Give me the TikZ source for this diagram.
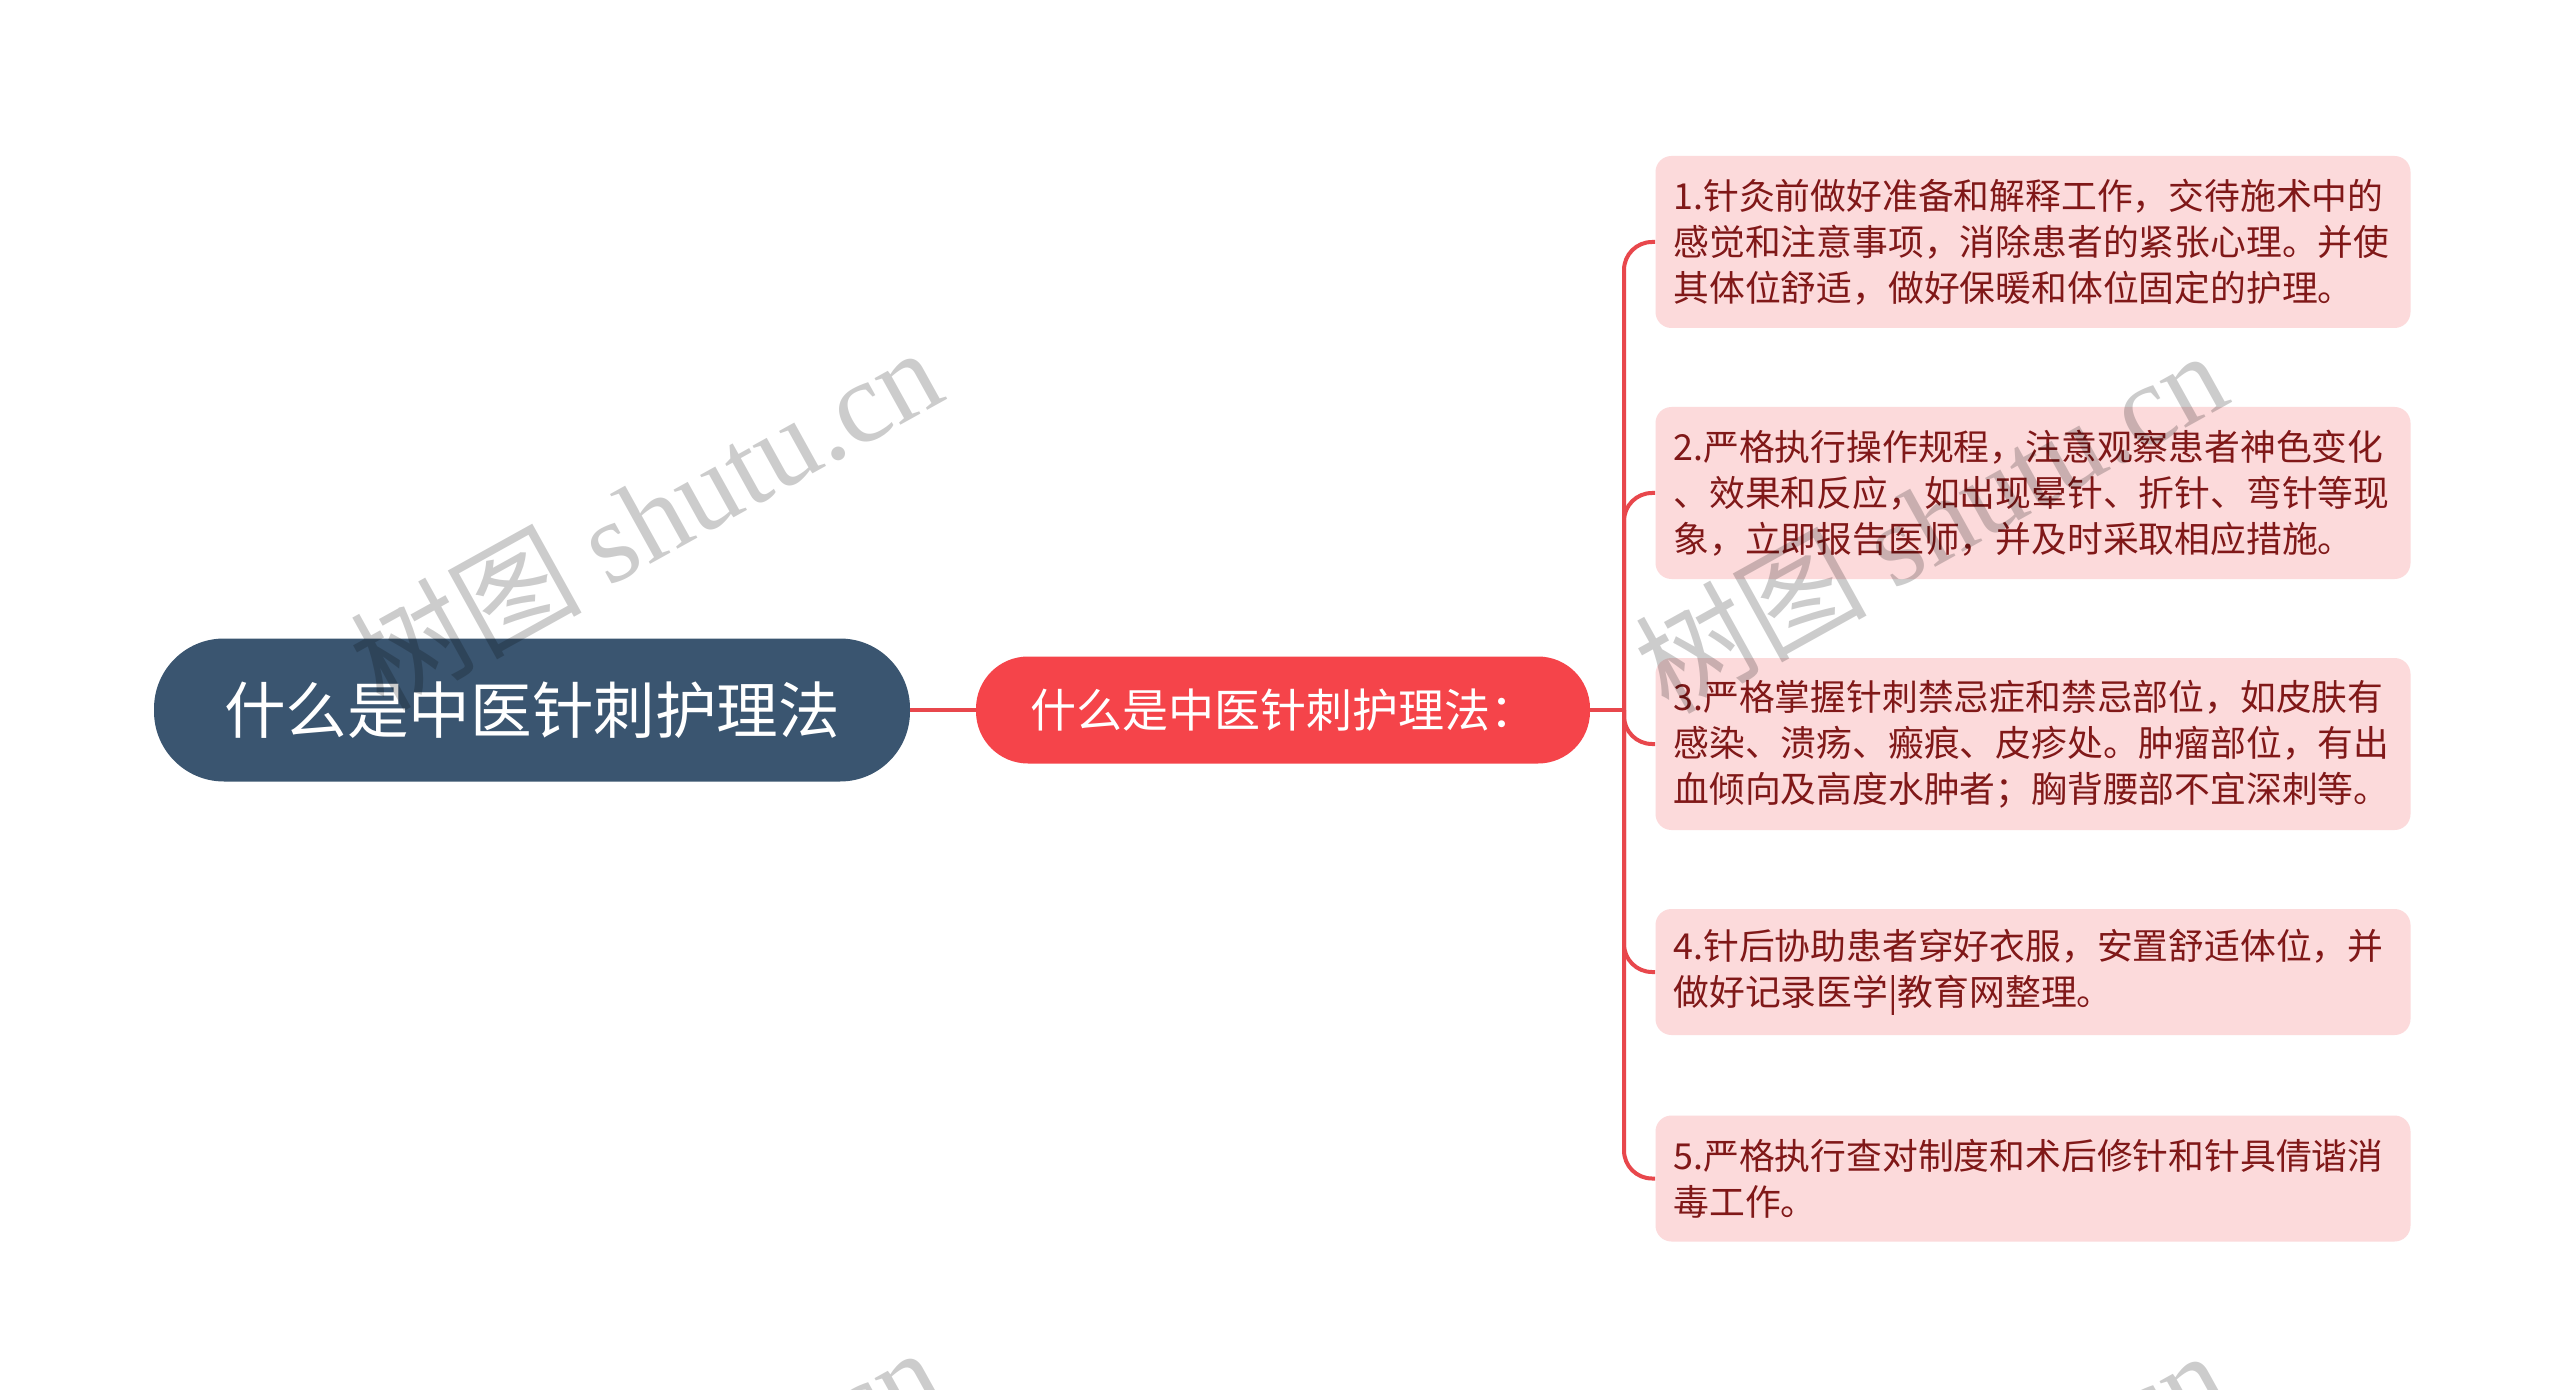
\documentclass[tikz,border=0pt]{standalone}
\usepackage{fontspec}
\setmainfont{Noto Sans CJK SC}
\newfontfamily\wmlatin{Liberation Serif}
\usetikzlibrary{positioning}
\definecolor{rootblue}{HTML}{3A5570}
\definecolor{midred}{HTML}{F5444A}
\definecolor{leafpink}{HTML}{FCDADB}
\definecolor{leaftext}{HTML}{801818}
\definecolor{linered}{HTML}{E8474C}
\tikzset{
  rootbox/.style={draw=none, fill=rootblue, text=white, rounded corners=35pt,
    minimum width=378pt, minimum height=71.5pt, inner sep=0pt,
    font=\fontsize{30.8pt}{36pt}\selectfont},
  midbox/.style={draw=none, fill=midred, text=white, rounded corners=26pt,
    minimum width=307pt, minimum height=53.5pt, inner sep=0pt,
    font=\fontsize{23pt}{27pt}\selectfont},
  leafbox/.style={draw=none, fill=leafpink, text=leaftext, rounded corners=8pt,
    minimum width=377.5pt, inner xsep=9pt, inner ysep=0pt, text width=359.5pt,
    align=left, font=\fontsize{17.9pt}{23pt}\selectfont},
  conn/.style={draw=linered, line width=2pt},
  branch/.style={draw=linered, line width=2pt, rounded corners=14pt},
  watermark/.style={text=black, text opacity=0.2, rotate=29,
    font=\fontsize{58pt}{60pt}\selectfont, inner sep=0pt}
}
\begin{document}
\begin{tikzpicture}[x=0.5pt,y=-0.5pt]
\useasboundingbox (0,0) rectangle (2560,1390);
\fill[white] (0,0) rectangle (2560,1390);
\begin{scope}
\clip (0,0) rectangle (2560,1390);
\node[rootbox] (root) at (532,710) {什么是中医针刺护理法};
\node[midbox] (mid) at (1283,710) {什么是中医针刺护理法：};
\node[leafbox, minimum height=86pt] (l1) at (2033,242) {1.针灸前做好准备和解释工作，交待施术中的\\感觉和注意事项，消除患者的紧张心理。并使\\其体位舒适，做好保暖和体位固定的护理。};
\node[leafbox, minimum height=86pt] (l2) at (2033,493) {2.严格执行操作规程，注意观察患者神色变化\\、效果和反应，如出现晕针、折针、弯针等现\\象，立即报告医师，并及时采取相应措施。};
\node[leafbox, minimum height=86pt] (l3) at (2033,744) {3.严格掌握针刺禁忌症和禁忌部位，如皮肤有\\感染、溃疡、瘢痕、皮疹处。肿瘤部位，有出\\血倾向及高度水肿者；胸背腰部不宜深刺等。};
\node[leafbox, minimum height=63pt] (l4) at (2033,972) {4.针后协助患者穿好衣服，安置舒适体位，并\\做好记录医学|教育网整理。};
\node[leafbox, minimum height=63pt] (l5) at (2033,1178.5) {5.严格执行查对制度和术后修针和针具倩谐消\\毒工作。};
\coordinate (j) at (1624,710);
\draw[conn] (root.east) -- (mid.west);
\draw[conn] (mid.east) -- (j);
\foreach \n in {l1,l2,l3,l4,l5} {
  \draw[branch] (j) |- (\n.west);
}
\node[watermark] (w1) at (645,517) {树图 {\wmlatin shutu.cn}};
\node[watermark] (w2) at (1930,520) {树图 {\wmlatin shutu.cn}};
\node[watermark] (w3) at (645,1517) {树图 {\wmlatin shutu.cn}};
\node[watermark] (w4) at (1930,1520) {树图 {\wmlatin shutu.cn}};
\end{scope}
\end{tikzpicture}
\end{document}
